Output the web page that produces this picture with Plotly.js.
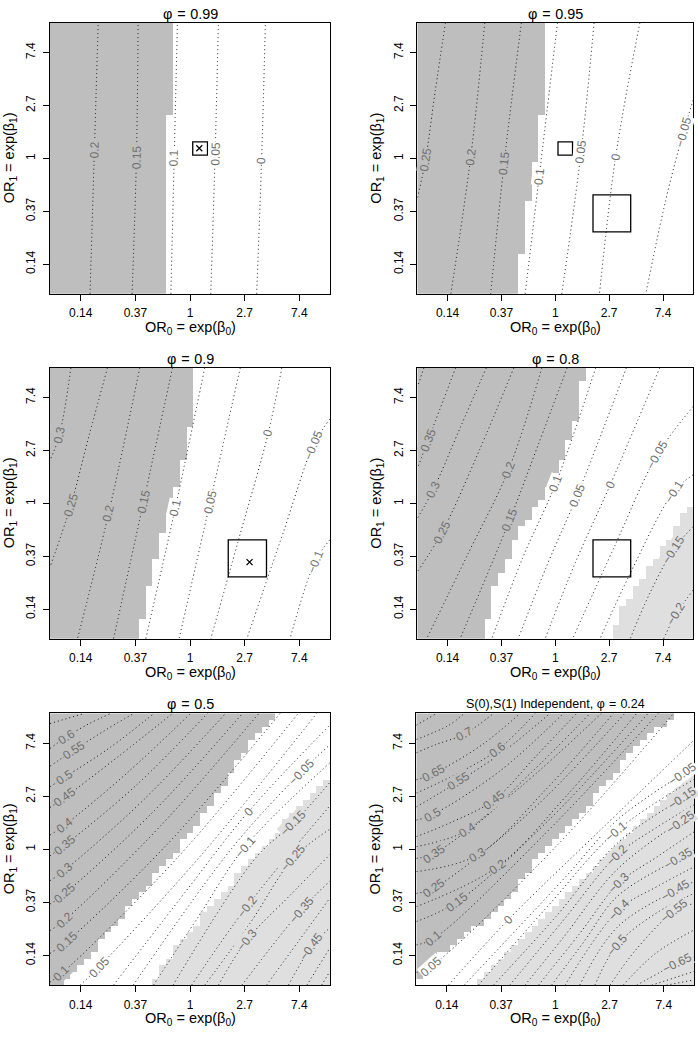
<!DOCTYPE html>
<html><head><meta charset="utf-8">
<script src="https://cdn.plot.ly/plotly-3.0.1.min.js"></script>
<style>html,body{margin:0;padding:0;background:#fff}#chart{width:698px;height:1050px}</style>
</head><body><div id="chart"></div>
<script>
// grid of beta values (cell centres) used by the shading
const gridB = [-2.5,-2.375,-2.25,-2.125,-2,-1.875,-1.75,-1.625,-1.5,-1.375,-1.25,-1.125,-1,-0.875,-0.75,-0.625,-0.5,-0.375,-0.25,-0.125,0,0.125,0.25,0.375,0.5,0.625,0.75,0.875,1,1.125,1.25,1.375,1.5,1.625,1.75,1.875,2,2.125,2.25,2.375,2.5];
const tickVals = [-2,-1,0,1,2];
const tickText = ['0.14','0.37','1','2.7','7.4'];
const panelTitles = ['\u03c6\u2004=\u20040.99','\u03c6\u2004=\u20040.95','\u03c6\u2004=\u20040.9','\u03c6\u2004=\u20040.8','\u03c6\u2004=\u20040.5','S(0),S(1) Independent, \u03c6\u2004=\u20040.24'];

// number of dark cells from the left / light cells from the right, per row (bottom to top)
const p1Dark = [17,17,17,17,17,17,17,17,17,17,17,17,17,17,17,17,17,17,17,17,17,17,17,17,17,17,17,18,18,18,18,18,18,18,18,18,18,18,18,18,18];
const p2Dark = [15,15,15,15,15,15,16,16,16,16,16,16,16,16,17,17,17,17,17,17,18,18,18,18,18,18,18,19,19,19,19,19,19,19,19,19,19,19,19,19,19];
const p3Dark = [13,13,13,14,14,14,14,14,15,15,15,15,16,16,16,16,17,17,17,18,18,18,18,19,19,19,19,20,20,20,20,20,21,21,21,21,21,21,21,21,21];
const p4Dark = [10,10,10,11,11,11,11,11,12,12,13,13,14,14,14,15,15,16,17,17,18,19,19,20,20,21,21,22,22,22,23,23,23,24,24,24,24,24,24,25,25];
const p5Dark = [2,3,4,5,6,7,7,8,9,10,11,11,12,13,14,15,15,16,17,18,19,19,20,21,22,22,23,24,24,25,26,26,27,27,28,29,29,30,31,32,33];
const p6Dark = [0,1,1,2,3,5,6,7,8,10,11,12,13,14,15,15,16,17,17,18,19,20,21,22,23,24,25,26,26,27,28,29,30,30,31,32,33,34,35,37,38];
const noLight = [0,0,0,0,0,0,0,0,0,0,0,0,0,0,0,0,0,0,0,0,0,0,0,0,0,0,0,0,0,0,0,0,0,0,0,0,0,0,0,0,0];
const p4Light = [12,12,11,11,11,10,9,9,8,7,7,6,5,5,4,3,3,2,2,1,0,0,0,0,0,0,0,0,0,0,0,0,0,0,0,0,0,0,0,0,0];
const p5Light = [26,25,25,24,23,23,22,21,20,19,19,18,17,16,15,14,14,13,12,11,10,9,8,7,7,6,5,4,3,2,1,0,0,0,0,0,0,0,0,0,0];
const p6Light = [32,31,30,29,28,27,26,25,24,23,22,21,20,19,18,17,16,15,14,13,12,11,10,9,8,7,6,5,4,3,2,1,1,0,0,0,0,0,0,0,0];

// contour lines: level, beta0 points, beta1 points, index of the label point (-1 = no label)
const p1Levels = [0.2,0.15,0.1,0.05,0];
const p1X = [[-1.83,-1.75,-1.68],[-1.06,-0.98,-0.95],[-0.35,-0.29,-0.23],[0.38,0.46,0.52],[1.22,1.31,1.38]];
const p1Y = [[-2.56,0.16,2.56],[-2.56,0.03,2.56],[-2.56,0.0,2.56],[-2.56,0.09,2.56],[-2.56,-0.04,2.56]];
const p1Lab = [1,1,1,1,1];

const p2Levels = [0.25,0.2,0.15,0.1,0.05,0,-0.05];
const p2X = [[-2.04,-2.23,-2.41,-2.56],[-1.31,-1.57,-1.94],[-0.63,-0.95,-1.20],[0.04,-0.30,-0.56],[0.72,0.48,0.12],[1.57,1.12,0.82],[2.56,2.38,2.05,1.68]];
const p2Y = [[2.56,1.27,-0.03,-0.75],[2.56,0.03,-2.56],[2.56,-0.09,-2.56],[2.56,-0.35,-2.56],[2.56,0.13,-2.56],[2.56,0.03,-2.56],[1.10,0.50,-0.79,-2.56]];
const p2Lab = [2,1,1,1,1,1,1];

const p3Levels = [0.3,0.25,0.2,0.15,0.1,0.05,0,-0.05,-0.1];
const p3X = [[-2.18,-2.39,-2.56],[-1.51,-1.85,-2.18,-2.56],[-0.92,-1.49,-2.06],[-0.32,-0.85,-1.40],[0.27,-0.27,-0.81],[0.92,0.37,-0.20],[1.68,1.43,0.88,0.38],[2.56,2.26,1.71,1.04],[2.56,2.29,1.83]];
const p3Y = [[2.56,1.29,0.82],[2.56,1.27,-0.03,-1.20],[2.56,-0.19,-2.56],[2.56,0.03,-2.56],[2.56,-0.09,-2.56],[2.56,0.03,-2.56],[2.56,1.32,-0.72,-2.56],[1.59,1.10,-0.54,-2.56],[-0.69,-1.10,-2.56]];
const p3Lab = [1,2,1,1,1,1,1,1,1];

const p4Levels = [0.4,0.35,0.3,0.25,0.2,0.15,0.1,0.05,0,-0.05,-0.1,-0.15,-0.2];
const p4X = [[-2.44,-2.56],[-1.85,-2.36,-2.56],[-1.28,-1.77,-2.27,-2.56],[-0.77,-1.42,-2.10,-2.56],[-0.25,-0.87,-1.60,-2.39],[0.22,-0.32,-0.85,-1.77],[0.75,0.01,-0.61,-1.18],[1.32,0.41,-0.15,-0.69],[1.94,1.02,0.38,-0.19],[2.56,1.89,1.11,0.32],[2.56,2.20,1.36,0.83],[2.56,2.19,1.74,1.39],[2.56,2.25,2.01]];
const p4Y = [[2.56,2.20],[2.56,1.20,0.66],[2.56,1.42,0.25,-0.28],[2.56,0.98,-0.54,-1.29],[2.56,0.63,-0.91,-2.56],[2.56,1.10,-0.32,-2.56],[2.56,0.38,-1.04,-2.56],[2.56,0.16,-1.16,-2.56],[2.56,0.35,-1.10,-2.56],[1.83,0.91,-0.79,-2.56],[0.54,0.22,-1.39,-2.56],[-0.44,-0.88,-1.73,-2.56],[-1.64,-2.08,-2.56]];
const p4Lab = [-1,1,2,2,1,2,1,1,1,1,1,1,1];

const p5Levels = [0.65,0.6,0.55,0.5,0.45,0.4,0.35,0.3,0.25,0.2,0.15,0.1,0.05,0,-0.05,-0.1,-0.15,-0.2,-0.25,-0.3,-0.35,-0.4,-0.45,-0.5,-0.55];
const p5X = [[-2.56,-1.94],[-2.56,-2.26,-1.86,-1.45],[-2.56,-2.12,-1.59,-1.03],[-2.56,-2.29,-1.46,-0.66],[-2.56,-2.29,-1.31,-0.32],[-2.56,-2.29,-1.16,0.01],[-2.56,-2.29,-0.98,0.32],[-2.56,-2.29,-0.85,0.65],[-2.56,-2.29,-0.67,0.96],[-2.56,-2.29,-0.55,1.26],[-2.56,-2.26,-0.43,1.65],[-2.56,-2.35,-0.24,1.98],[-2.01,-1.66,0.18,2.32],[-1.40,-0.06,1.07,2.56],[-1.04,0.79,2.04,2.56],[-0.67,0.16,1.01,2.56],[-0.31,1.22,1.89,2.56],[0.03,1.04,2.56],[0.27,1.10,1.89,2.56],[0.52,1.04,1.80,2.56],[0.95,2.04,2.56],[1.40,1.98,2.56],[1.80,2.23,2.56],[2.14,2.56],[2.41,2.56]];
const p5Y = [[2.37,2.56],[1.90,2.12,2.36,2.56],[1.57,1.87,2.22,2.56],[1.18,1.36,1.92,2.56],[0.79,0.98,1.75,2.56],[0.27,0.46,1.43,2.56],[-0.12,0.08,1.21,2.56],[-0.59,-0.39,0.93,2.56],[-1.03,-0.83,0.71,2.56],[-1.53,-1.33,0.43,2.56],[-1.96,-1.74,0.08,2.56],[-2.50,-2.34,-0.17,2.56],[-2.56,-2.21,-0.14,2.56],[-2.56,-0.77,0.71,2.34],[-2.56,0.05,1.46,1.97],[-2.56,-1.26,0.05,1.63],[-2.56,-0.14,0.49,1.26],[-2.56,-1.08,0.82],[-2.56,-1.39,-0.17,0.38],[-2.56,-1.71,-0.90,-0.10],[-2.56,-1.14,-0.60],[-2.56,-1.74,-0.92],[-2.56,-1.83,-1.48],[-2.56,-1.86],[-2.56,-2.30]];
const p5Lab = [-1,1,1,1,1,1,1,1,1,1,1,1,1,2,2,2,2,1,2,1,1,-1,1,-1,-1];

const p6Levels = [0.8,0.75,0.7,0.65,0.6,0.55,0.5,0.45,0.4,0.35,0.3,0.25,0.2,0.15,0.1,0.05,0,-0.05,-0.1,-0.15,-0.2,-0.25,-0.3,-0.35,-0.4,-0.45,-0.5,-0.55,-0.6,-0.65,-0.7,-0.75];
const p6X = [[-2.56,-2.19],[-2.56,-1.96,-1.68],[-2.56,-2.21,-1.68,-1.14],[-2.56,-2.24,-1.35,-0.65],[-2.56,-1.78,-1.07,-0.37],[-2.56,-1.78,-0.92,-0.10],[-2.56,-2.27,-1.04,0.15],[-2.56,-1.96,-1.13,-0.36,0.39],[-2.56,-1.62,-0.49,0.64],[-2.56,-2.24,-0.67,0.85],[-2.56,-1.44,-0.18,1.07],[-2.56,-2.24,-0.49,1.28],[-2.56,-1.07,0.19,1.50],[-2.56,-1.81,-0.12,1.71],[-2.56,-2.24,-0.24,1.90],[-2.56,-2.30,0.01,2.18],[-1.97,-0.87,0.87,2.56],[-1.68,0.19,1.14,2.34,2.56],[-1.42,-0.12,1.11,2.56],[-1.14,0.01,1.14,2.34,2.56],[-0.84,0.13,1.14,1.85,2.56],[-0.56,0.15,1.14,2.31,2.56],[-0.31,0.44,1.17,1.88,2.56],[-0.07,0.53,1.14,2.28,2.56],[0.18,1.17,1.88,2.56],[0.45,1.14,2.22,2.56],[0.73,1.14,1.85,2.56],[1.01,1.48,2.19,2.56],[1.25,1.85,2.56],[1.50,2.25,2.56],[1.78,2.56],[2.05,2.56]];
const p6Y = [[2.34,2.56],[2.07,2.34,2.56],[1.82,1.97,2.17,2.56],[1.31,1.43,1.97,2.56],[1.06,1.44,1.87,2.56],[0.80,1.28,1.87,2.56],[0.55,0.65,1.46,2.56],[0.24,0.49,0.93,1.75,2.56],[0.05,0.36,1.40,2.56],[-0.17,-0.08,1.15,2.56],[-0.42,-0.11,1.12,2.56],[-0.83,-0.73,0.68,2.56],[-1.08,-0.33,0.99,2.56],[-1.36,-0.99,0.55,2.56],[-1.80,-1.68,0.24,2.56],[-2.32,-2.21,0.05,2.56],[-2.56,-1.33,0.40,2.06],[-2.56,-0.52,0.55,1.42,1.57],[-2.56,-1.05,0.33,1.32],[-2.56,-1.27,0.11,0.96,1.09],[-2.56,-1.36,-0.11,0.40,0.84],[-2.56,-1.66,-0.38,0.52,0.65],[-2.56,-1.60,-0.64,-0.14,0.33],[-2.56,-1.74,-0.89,-0.17,-0.01],[-2.56,-1.14,-0.70,-0.33],[-2.56,-1.47,-0.77,-0.61],[-2.56,-1.80,-1.21,-0.83],[-2.56,-1.90,-1.17,-1.02],[-2.56,-1.96,-1.52],[-2.56,-2.15,-2.02],[-2.56,-2.30],[-2.56,-2.46]];
const p6Lab = [-1,-1,2,1,2,1,1,2,1,1,1,1,1,1,1,1,1,3,2,3,2,3,2,3,1,2,1,2,-1,1,-1,-1];

// boxes [beta0 min, beta0 max, beta1 min, beta1 max] and point estimates [beta0, beta1]
const smallBox = [0.05,0.32,0.06,0.31];
const bigBox = [0.70,1.40,-1.39,-0.69];
const p1Mark = [0.17,0.19];
const p3Mark = [1.09,-1.11];

const DARK = '#bebebe', LIGHT = '#dfdfdf';
const FONT = 'Liberation Sans, Arial, Helvetica, sans-serif';
const W = 698, H = 1050;
const panels = [
  {t:panelTitles[0], ts:14.4, dark:p1Dark, light:noLight, lv:p1Levels, cx:p1X, cy:p1Y, lab:p1Lab, boxes:[smallBox], marks:[p1Mark], px:[50,330], py:[22.7,294]},
  {t:panelTitles[1], ts:14.4, dark:p2Dark, light:noLight, lv:p2Levels, cx:p2X, cy:p2Y, lab:p2Lab, boxes:[smallBox,bigBox], marks:[], px:[417.3,693.3], py:[22.7,294]},
  {t:panelTitles[2], ts:14.4, dark:p3Dark, light:noLight, lv:p3Levels, cx:p3X, cy:p3Y, lab:p3Lab, boxes:[bigBox], marks:[p3Mark], px:[50,330], py:[367.7,639]},
  {t:panelTitles[3], ts:14.4, dark:p4Dark, light:p4Light, lv:p4Levels, cx:p4X, cy:p4Y, lab:p4Lab, boxes:[bigBox], marks:[], px:[417.3,693.3], py:[367.7,639]},
  {t:panelTitles[4], ts:14.4, dark:p5Dark, light:p5Light, lv:p5Levels, cx:p5X, cy:p5Y, lab:p5Lab, boxes:[], marks:[], px:[50,330], py:[713.3,985.3]},
  {t:panelTitles[5], ts:12.5, dark:p6Dark, light:p6Light, lv:p6Levels, cx:p6X, cy:p6Y, lab:p6Lab, boxes:[], marks:[], px:[416.3,694.3], py:[713.3,985.3]}
];

const traces = [], annotations = [], shapes = [];
const layout = {width:W, height:H, margin:{l:0,r:0,t:0,b:0}, showlegend:false,
  paper_bgcolor:'#fff', plot_bgcolor:'#fff', font:{family:FONT, color:'#000'}};

function fmt(v){ return (v < 0 ? '\u2212' : '') + String(Math.abs(v)); }

panels.forEach((p, i) => {
  const n = i === 0 ? '' : String(i + 1);
  const xa = 'x' + n, ya = 'y' + n;
  const xd = [p.px[0] / W, p.px[1] / W];
  const yd = [1 - p.py[1] / H, 1 - p.py[0] / H];
  const ax = {range:[-2.5625, 2.5625], tickvals:tickVals, ticktext:tickText, ticks:'outside', ticklen:6,
    tickwidth:1, tickcolor:'#000', showline:true, mirror:true, linecolor:'#000', linewidth:1,
    showgrid:false, zeroline:false, fixedrange:true, tickfont:{family:FONT, size:12, color:'#000'}};
  layout['xaxis' + n] = Object.assign({}, ax, {domain:xd, anchor:ya, ticklabelstandoff:2});
  layout['yaxis' + n] = Object.assign({}, ax, {domain:yd, anchor:xa, tickangle:-90, ticklabelstandoff:3});

  const z = gridB.map((_, j) => gridB.map((_, k) => k < p.dark[j] ? 2 : (k >= gridB.length - p.light[j] ? 0 : 1)));
  traces.push({type:'heatmap', x:gridB, y:gridB, z:z, zmin:0, zmax:2, showscale:false, hoverinfo:'skip',
    colorscale:[[0, LIGHT], [0.5, '#ffffff'], [1, DARK]], xaxis:xa, yaxis:ya});

  const pw = p.px[1] - p.px[0], ph = p.py[1] - p.py[0];
  const sx = pw / 5.125, sy = ph / 5.125;
  p.lv.forEach((lev, c) => {
    const xs = p.cx[c], ys = p.cy[c];
    traces.push({type:'scatter', mode:'lines', x:xs, y:ys, xaxis:xa, yaxis:ya, hoverinfo:'skip',
      line:{color:'#111', width:1, dash:'1px,3px', shape:'spline', smoothing:1}});
    const li = p.lab[c];
    if (li >= 0) {
      const a = Math.max(0, li - 1), b = Math.min(xs.length - 1, li + 1);
      let ang = Math.atan2(-(ys[b] - ys[a]) * sy, (xs[b] - xs[a]) * sx) * 180 / Math.PI;
      if (ang >= 90) ang -= 180;
      if (ang < -90) ang += 180;
      const k = Math.min(40, Math.max(0, Math.round((xs[li] + 2.5) / 0.125)));
      const j = Math.min(40, Math.max(0, Math.round((ys[li] + 2.5) / 0.125)));
      const v = z[j][k];
      annotations.push({xref:xa, yref:ya, x:xs[li], y:ys[li], xanchor:'center', yanchor:'middle', text:fmt(lev), textangle:ang, showarrow:false,
        font:{family:FONT, size:12, color:'#6e6e6e'}, bgcolor: v === 2 ? DARK : (v === 0 ? LIGHT : '#ffffff'), borderpad:0});
    }
  });

  p.boxes.forEach(bx => shapes.push({type:'rect', xref:xa, yref:ya, x0:bx[0], x1:bx[1], y0:bx[2], y1:bx[3],
    line:{color:'#000', width:1.3}, layer:'above'}));
  p.marks.forEach(m => traces.push({type:'scatter', mode:'markers', x:[m[0]], y:[m[1]], xaxis:xa, yaxis:ya,
    hoverinfo:'skip', marker:{symbol:'x-thin', size:6, line:{width:1.3, color:'#000'}, color:'#000'}}));

  const cxp = (xd[0] + xd[1]) / 2, cyp = (yd[0] + yd[1]) / 2;
  annotations.push({xref:'paper', yref:'paper', x:cxp, y:yd[1], xanchor:'center', yanchor:'middle', yshift:9, showarrow:false,
    text:p.t, font:{family:FONT, size:p.ts, color:'#000'}});
  annotations.push({xref:'paper', yref:'paper', x:cxp, y:yd[0], xanchor:'center', yanchor:'middle', yshift:-34, showarrow:false,
    text:'OR<sub>0</sub> = exp(β<sub>0</sub>)', font:{family:FONT, size:14.5, color:'#000'}});
  annotations.push({xref:'paper', yref:'paper', x:xd[0], y:cyp, xanchor:'center', yanchor:'middle', xshift:-40, textangle:-90, showarrow:false,
    text:'OR<sub>1</sub> = exp(β<sub>1</sub>)', font:{family:FONT, size:14.5, color:'#000'}});
});

layout.annotations = annotations;
layout.shapes = shapes;
Plotly.newPlot('chart', traces, layout, {staticPlot:true, displayModeBar:false});
</script>
</body></html>
